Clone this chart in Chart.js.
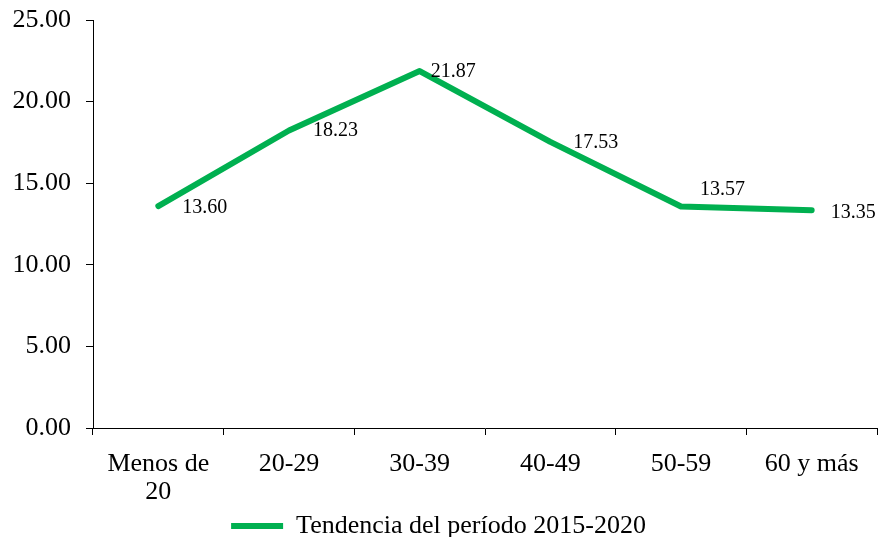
<!DOCTYPE html>
<html>
<head>
<meta charset="utf-8">
<script src="https://cdn.jsdelivr.net/npm/chart.js@4/dist/chart.umd.min.js"></script>
<style>
    body { margin: 0; background: #fff; }
    #wrap { width: 883px; height: 537px; }
</style>
</head>
<body>
<div id="wrap"><canvas id="chart" width="883" height="537"></canvas></div>
<script>
const CATEGORIES = [["Menos de", "20"], "20-29", "30-39", "40-49", "50-59", "60 y más"];
const VALUES = [13.60, 18.23, 21.87, 17.53, 13.57, 13.35];
const SERIES_LABEL = "Tendencia del período 2015-2020";
const Y_TICKS = [0, 5, 10, 15, 20, 25];

const FONT = "'Liberation Serif', 'Times New Roman', serif";
const GREEN = "#00B050";

// label nudges (px) from each point, like the hand-placed Excel labels
const labelNudge = [
    [24, 2], [24, 0], [11, 1], [23, 1], [19, -17], [19, 3],
];

const pointLabels = {
    id: "pointLabels",
    afterDatasetsDraw(chart) {
        const ctx = chart.ctx;
        const meta = chart.getDatasetMeta(0);
        ctx.save();
        ctx.font = "20px " + FONT;
        ctx.fillStyle = "#000";
        ctx.textAlign = "left";
        ctx.textBaseline = "middle";
        meta.data.forEach((pt, i) => {
            const [dx, dy] = labelNudge[i];
            ctx.fillText(VALUES[i].toFixed(2), pt.x + dx, pt.y + dy);
        });
        ctx.restore();
    },
};

new Chart(document.getElementById("chart"), {
    type: "line",
    data: {
        labels: CATEGORIES,
        datasets: [
            {
                label: SERIES_LABEL,
                data: VALUES,
                borderColor: GREEN,
                backgroundColor: GREEN,
                borderWidth: 6,
                borderCapStyle: "round",
                borderJoinStyle: "round",
                pointRadius: 0,
                tension: 0,
            },
        ],
    },
    options: {
        responsive: false,
        animation: false,
        layout: { padding: { top: 20, right: 6, left: 0, bottom: -12 } },
        plugins: {
            tooltip: { enabled: false },
            legend: {
                position: "bottom",
                labels: {
                    color: "#000",
                    font: { family: FONT, size: 26 },
                    usePointStyle: true,
                    pointStyle: "line",
                    pointStyleWidth: 52,
                    padding: 0,
                },
            },
        },
        scales: {
            x: {
                offset: true,
                afterFit(scale) {
                    scale.height = 85;
                },
                grid: {
                    offset: true,
                    drawOnChartArea: false,
                    color: "#000",
                    tickLength: 7,
                },
                border: { display: true, color: "#000", width: 1 },
                ticks: {
                    color: "#000",
                    font: { family: FONT, size: 26, lineHeight: 1.08 },
                    padding: 15,
                    maxRotation: 0,
                    autoSkip: false,
                },
            },
            y: {
                min: 0,
                max: 25,
                afterFit(scale) {
                    scale.width = 93;
                    scale.paddingTop = 0;
                    scale.paddingBottom = 0;
                },
                afterBuildTicks(scale) {
                    scale.ticks = Y_TICKS.map((v) => ({ value: v }));
                },
                grid: {
                    drawOnChartArea: false,
                    color: "#000",
                    tickLength: 7,
                },
                border: { display: true, color: "#000", width: 1 },
                ticks: {
                    color: "#000",
                    font: { family: FONT, size: 26 },
                    padding: 15,
                    callback: (v) => Number(v).toFixed(2),
                },
            },
        },
    },
    plugins: [pointLabels],
});
</script>
</body>
</html>
